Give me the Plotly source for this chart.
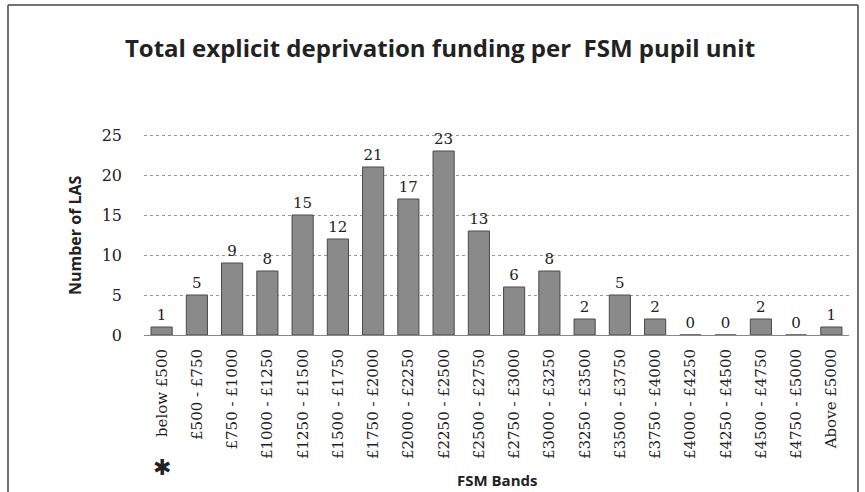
import plotly.graph_objects as go

categories = ["below £500", "£500 - £750", "£750 - £1000", "£1000 - £1250", "£1250 - £1500",
              "£1500 - £1750", "£1750 - £2000", "£2000 - £2250", "£2250 - £2500", "£2500 - £2750",
              "£2750 - £3000", "£3000 - £3250", "£3250 - £3500", "£3500 - £3750", "£3750 - £4000",
              "£4000 - £4250", "£4250 - £4500", "£4500 - £4750", "£4750 - £5000", "Above £5000"]
counts = [1, 5, 9, 8, 15, 12, 21, 17, 23, 13, 6, 8, 2, 5, 2, 0, 0, 2, 0, 1]
y_ticks = [0, 5, 10, 15, 20, 25]

W, H = 865, 492
ml, mr, mt, mb = 144, 16, 131, 157
pw, ph = W - ml - mr, H - mt - mb

def px(x):
    return (x - ml) / pw

def py(y):
    return (H - mb - y) / ph

fig = go.Figure(go.Bar(
    x=categories, y=counts,
    marker=dict(color="#8a8a8a", line=dict(color="#4a4a4a", width=1)),
    text=[str(c) for c in counts], textposition="outside",
    textfont=dict(family="DejaVu Serif", size=15, color="#222"),
    cliponaxis=False,
))

fig.update_layout(
    width=W, height=H,
    margin=dict(l=ml, r=mr, t=mt, b=mb, autoexpand=False),
    paper_bgcolor="white", plot_bgcolor="white",
    bargap=0.4,
    showlegend=False,
    title=dict(text="<b>Total explicit deprivation funding per  FSM pupil unit</b>",
               x=px(440), xanchor="center", xref="paper", y=1 - 49 / H, yanchor="middle",
               font=dict(family="Open Sans", size=24, color="#222")),
    xaxis=dict(tickangle=-90, tickfont=dict(family="DejaVu Serif", size=15, color="#222"),
               showgrid=False, showline=False, ticks="", automargin=False,
               ticklabelstandoff=10),
    yaxis=dict(range=[0, 25.5], tickvals=y_ticks, showgrid=True, gridcolor="#999", griddash="dot",
               zeroline=True, zerolinecolor="#888", zerolinewidth=1, automargin=False,
               tickfont=dict(family="DejaVu Serif", size=16, color="#222"), ticks="",
               ticklabelstandoff=21),
)

# axis titles
fig.add_annotation(text="<b>FSM Bands</b>", xref="paper", yref="paper", x=px(497), y=py(480),
                   xanchor="center", yanchor="middle",
                   showarrow=False, font=dict(family="Open Sans", size=15, color="#222"))
fig.add_annotation(text="<b>Number of LAS</b>", xref="paper", yref="paper", x=px(75), y=py(235),
                   xanchor="center", yanchor="middle",
                   textangle=-90, showarrow=False, font=dict(family="Open Sans", size=16, color="#222"))

# outer frame
frame = dict(color="#444", width=1.5)
fig.add_shape(type="line", xref="paper", yref="paper", x0=px(8), x1=px(858), y0=py(5), y1=py(5), line=frame)
fig.add_shape(type="line", xref="paper", yref="paper", x0=px(8), x1=px(8), y0=py(5), y1=py(495), line=frame)
fig.add_shape(type="line", xref="paper", yref="paper", x0=px(858), x1=px(858), y0=py(5), y1=py(495), line=frame)

fig.add_annotation(text="✱", xref="paper", yref="paper", x=px(162), y=py(466),
                   xanchor="center", yanchor="middle",
                   showarrow=False, font=dict(size=22, color="#222"))

fig.write_html("out.html", config={"displayModeBar": False},
               post_script="document.body.style.margin='0';")
